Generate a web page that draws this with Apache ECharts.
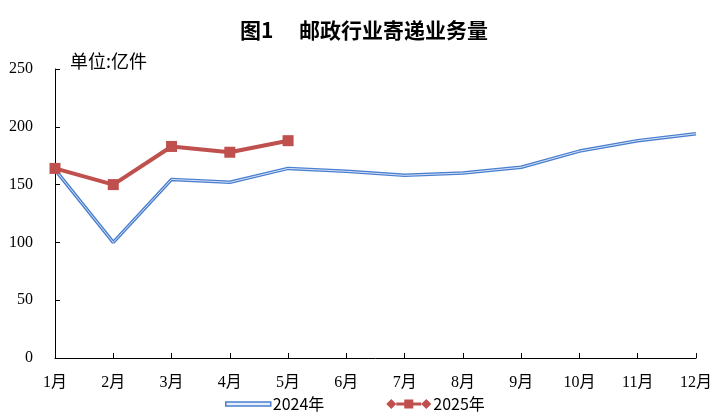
<!DOCTYPE html>
<html><head><meta charset="utf-8">
<script src="https://cdn.jsdelivr.net/npm/echarts@6/dist/echarts.min.js"></script>
<style>html,body{margin:0;padding:0;background:#fff}#c{width:728px;height:420px}</style>
</head><body><div id="c"></div>
<script>
const categories = ['1月','2月','3月','4月','5月','6月','7月','8月','9月','10月','11月','12月'];
const values2024 = [163, 100, 154.5, 152, 164, 161.5, 158, 160, 165, 179, 188, 194];
const values2025 = [164, 150, 183, 178, 188];
const yTicks = [0, 50, 100, 150, 200, 250];

const serif = '"Liberation Serif","Noto Sans CJK SC",serif';
const chart = echarts.init(document.getElementById('c'), null, {renderer:'canvas'});
chart.setOption({
  animation: false,
  backgroundColor: '#fff',
  title: {
    text: '图1　 邮政行业寄递业务量',
    left: 'center', top: 15,
    textStyle: {fontFamily: '"Noto Sans CJK SC",sans-serif', fontSize: 21, fontWeight: 'bold', color: '#000'}
  },
  graphic: [{
    type: 'text', left: 70, top: 52,
    style: {text: '单位:亿件', font: '18px "Noto Sans CJK SC",sans-serif', fill: '#000'}
  }],
  legend: {
    bottom: 3, left: 220, itemGap: 62, itemWidth: 45, itemHeight: 11,
    textStyle: {fontFamily: '"Noto Sans CJK SC",sans-serif', fontSize: 16, color: '#000', padding: [0,0,0,-3]},
    data: [
      {name: '2024年', icon: 'path://M0 4 L45 4 L45 8 L0 8 Z',
       itemStyle: {color: '#e6eef9', borderColor: '#4a7fd0', borderWidth: 1.5}},
      {name: '2025年', icon: 'path://M0 6 L5 1 L10 6 L5 11 Z M35 6 L40 1 L45 6 L40 11 Z M10 4.5 L35 4.5 L35 7.5 L10 7.5 Z M18 1.5 L27 1.5 L27 10.5 L18 10.5 Z',
       itemStyle: {color: '#c0504d'}}
    ]
  },
  grid: {left: 55, right: 32, top: 69, bottom: 62},
  xAxis: {
    type: 'category', data: categories, boundaryGap: false,
    axisLine: {lineStyle: {color: '#000', width: 1}},
    axisTick: {inside: true, length: 5, lineStyle: {color: '#000'}, alignWithLabel: true},
    axisLabel: {fontFamily: serif, fontSize: 16, color: '#000', margin: 17},
    splitLine: {show: false}
  },
  yAxis: {
    type: 'value', min: yTicks[0], max: yTicks[yTicks.length-1], interval: 50,
    axisLine: {show: true, lineStyle: {color: '#000', width: 1}},
    axisTick: {show: true, inside: true, length: 5, lineStyle: {color: '#000'}},
    axisLabel: {fontFamily: serif, fontSize: 16, color: '#000', margin: 22},
    splitLine: {show: false}
  },
  series: [
    {name: '2024年', type: 'line', data: values2024, symbol: 'none', smooth: false,
     lineStyle: {color: '#4a7fd0', width: 3.5}, itemStyle: {color: '#4a7fd0'}, z: 2},
    {name: '2024年内', type: 'line', data: values2024, symbol: 'none',
     lineStyle: {color: '#d5e2f5', width: 1}, z: 3, silent: true, tooltip: {show: false}},
    {name: '2025年', type: 'line', data: values2025, symbol: 'rect', symbolSize: 11,
     lineStyle: {color: '#c0504d', width: 4}, itemStyle: {color: '#c0504d'}, z: 5}
  ]
});
</script></body></html>
